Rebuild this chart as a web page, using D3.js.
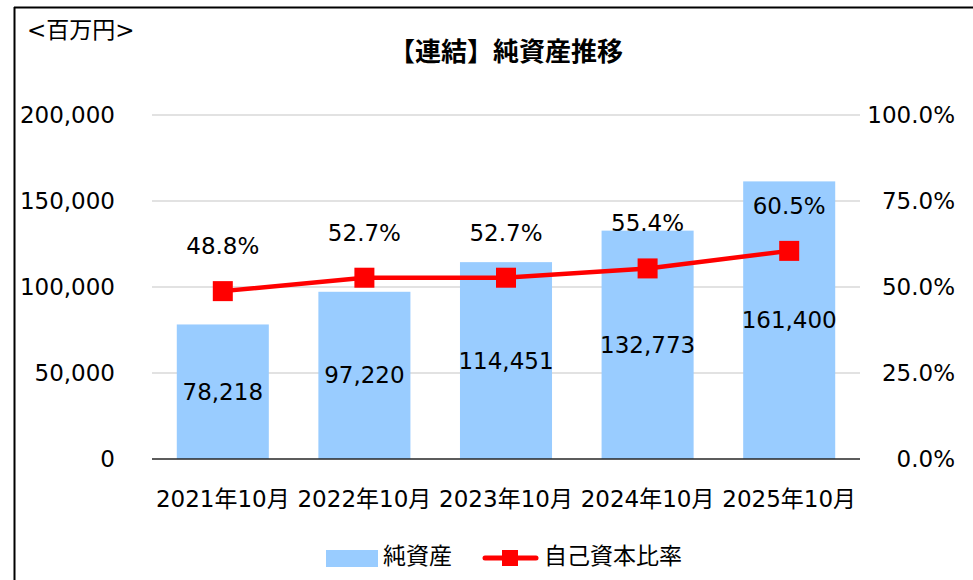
<!DOCTYPE html>
<html>
<head>
<meta charset="utf-8">
<script src="https://cdn.jsdelivr.net/npm/d3@7"></script>
<style>
    body { margin: 0; background: #fff; }
    svg { display: block; font-family: "DejaVu Sans", "Noto Sans CJK JP", sans-serif; }
</style>
</head>
<body>
<svg id="chart" width="973" height="580"></svg>
<script>
// chart data
const periods = ['2021年10月', '2022年10月', '2023年10月', '2024年10月', '2025年10月'];
const netAssets = [78218, 97220, 114451, 132773, 161400];
const equityRatio = [48.8, 52.7, 52.7, 55.4, 60.5];
const leftTicks = [0, 50000, 100000, 150000, 200000];
const rightTicks = [0, 25, 50, 75, 100];

const FONT = '"DejaVu Sans", "Noto Sans CJK JP", sans-serif';
const FS = 23;

const svg = d3.select('#chart');
const plot = { left: 152, right: 860, top: 115, bottom: 459 };

// frame (top and left edges only are visible)
svg.append('line').attr('x1', 14).attr('x2', 973).attr('y1', 7.5).attr('y2', 7.5)
    .attr('stroke', '#000').attr('stroke-width', 2);
svg.append('line').attr('x1', 14.5).attr('x2', 14.5).attr('y1', 7).attr('y2', 580)
    .attr('stroke', '#000').attr('stroke-width', 2);

const x = d3.scaleBand().domain(periods).range([plot.left, plot.right]).paddingInner(0.35).paddingOuter(0.175);
const yLeft = d3.scaleLinear().domain([0, 200000]).range([plot.bottom, plot.top]);
const yRight = d3.scaleLinear().domain([0, 100]).range([plot.bottom, plot.top]);

// gridlines
svg.append('g').selectAll('line')
    .data(leftTicks.slice(1))
    .join('line')
    .attr('x1', plot.left).attr('x2', plot.right)
    .attr('y1', d => yLeft(d)).attr('y2', d => yLeft(d))
    .attr('stroke', '#d9d9d9').attr('stroke-width', 1.5);

// left axis
const leftAxis = svg.append('g')
    .attr('transform', `translate(${plot.left},0)`)
    .call(d3.axisLeft(yLeft).tickValues(leftTicks).tickFormat(d3.format(',')).tickSize(0).tickPadding(37))
    .attr('font-family', FONT).attr('font-size', FS);
leftAxis.select('.domain').remove();
leftAxis.selectAll('text').attr('fill', '#000');

// right axis
const rightAxis = svg.append('g')
    .attr('transform', `translate(${plot.right},0)`)
    .call(d3.axisRight(yRight).tickValues(rightTicks).tickFormat(d => d3.format('.1f')(d) + '%').tickSize(0).tickPadding(0))
    .attr('font-family', FONT).attr('font-size', FS);
rightAxis.select('.domain').remove();
rightAxis.selectAll('text').attr('fill', '#000')
    .attr('text-anchor', 'end').attr('x', 95);

// bars
svg.append('g').selectAll('rect')
    .data(netAssets)
    .join('rect')
    .attr('x', (d, i) => x(periods[i]))
    .attr('width', x.bandwidth())
    .attr('y', d => yLeft(d))
    .attr('height', d => yLeft(0) - yLeft(d))
    .attr('fill', '#99ccff');

// baseline
svg.append('line').attr('x1', plot.left).attr('x2', plot.right)
    .attr('y1', yLeft(0)).attr('y2', yLeft(0))
    .attr('stroke', '#262626').attr('stroke-width', 1.5);

// bar labels
svg.append('g').selectAll('text')
    .data(netAssets)
    .join('text')
    .attr('x', (d, i) => x(periods[i]) + x.bandwidth() / 2)
    .attr('y', d => (yLeft(d) + yLeft(0)) / 2)
    .attr('dy', '0.35em')
    .attr('text-anchor', 'middle')
    .attr('font-size', FS)
    .text(d3.format(','));

// x axis labels
svg.append('g').selectAll('text')
    .data(periods)
    .join('text')
    .attr('x', d => x(d) + x.bandwidth() / 2)
    .attr('y', 499)
    .attr('dy', '0.35em')
    .attr('text-anchor', 'middle')
    .attr('font-size', FS)
    .text(d => d);

// ratio line
const line = d3.line()
    .x((d, i) => x(periods[i]) + x.bandwidth() / 2)
    .y(d => yRight(d));
svg.append('path').datum(equityRatio)
    .attr('d', line)
    .attr('fill', 'none')
    .attr('stroke', '#ff0000')
    .attr('stroke-width', 4.5)
    .attr('stroke-linejoin', 'round');
svg.append('g').selectAll('rect')
    .data(equityRatio)
    .join('rect')
    .attr('x', (d, i) => x(periods[i]) + x.bandwidth() / 2 - 10)
    .attr('y', d => yRight(d) - 10)
    .attr('width', 20).attr('height', 20)
    .attr('fill', '#ff0000');

// ratio labels
svg.append('g').selectAll('text')
    .data(equityRatio)
    .join('text')
    .attr('x', (d, i) => x(periods[i]) + x.bandwidth() / 2)
    .attr('y', d => yRight(d) - 45)
    .attr('dy', '0.35em')
    .attr('text-anchor', 'middle')
    .attr('font-size', FS)
    .text(d => d3.format('.1f')(d) + '%');

// title and unit
svg.append('text')
    .attr('x', 506).attr('y', 52).attr('dy', '0.35em')
    .attr('text-anchor', 'middle')
    .attr('font-size', 26).attr('font-weight', 'bold')
    .attr('font-family', '"Noto Sans CJK JP", sans-serif')
    .text('【連結】純資産推移');
svg.append('text')
    .attr('x', 27).attr('y', 30).attr('dy', '0.35em')
    .attr('font-size', FS)
    .text('<百万円>');

// legend
const legend = svg.append('g');
legend.append('rect').attr('x', 326).attr('y', 550).attr('width', 52).attr('height', 17).attr('fill', '#99ccff');
legend.append('text').attr('x', 383).attr('y', 556).attr('dy', '0.35em').attr('font-size', FS).text('純資産');
legend.append('line').attr('x1', 485).attr('x2', 536).attr('y1', 558).attr('y2', 558)
    .attr('stroke', '#ff0000').attr('stroke-width', 5).attr('stroke-linecap', 'round');
legend.append('rect').attr('x', 502).attr('y', 550).attr('width', 16).attr('height', 16).attr('fill', '#ff0000');
legend.append('text').attr('x', 544).attr('y', 556).attr('dy', '0.35em').attr('font-size', FS).text('自己資本比率');
</script>
</body>
</html>
